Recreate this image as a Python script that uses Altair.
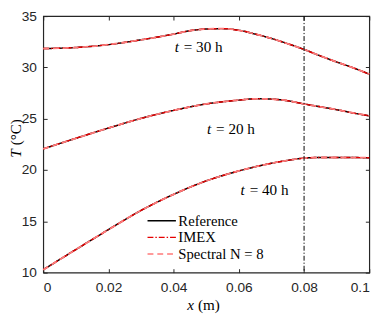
import altair as alt
import pandas as pd

# ---- data ----
series = ["Reference", "IMEX", "Spectral N = 8"]
series_colors = ["#000000", "#e60000", "#ff7a7a"]
series_dashes = [[1, 0], [6, 2, 1.5, 2], [6, 4]]
series_widths = [1.5, 1.5, 1.8]

x30 = [0, .01, .02, .03, .04, .045, .05, .055, .06, .065, .07, .075, .08, .085, .09, .095, .1]
T30 = [31.84, 31.94, 32.22, 32.69, 33.25, 33.58, 33.74, 33.78, 33.62, 33.25, 32.82, 32.31, 31.75, 31.12, 30.53, 29.97, 29.34]
x20 = [0, .01, .02, .03, .04, .05, .06, .065, .07, .075, .08, .085, .09, .095, .1]
T20 = [22.06, 23.09, 24.09, 25.03, 25.81, 26.44, 26.81, 26.94, 26.91, 26.75, 26.44, 26.16, 25.88, 25.56, 25.28]
x40 = [0, .01, .02, .03, .04, .05, .06, .07, .075, .08, .085, .09, .1]
T40 = [10.28, 12.25, 14.19, 16.06, 17.63, 18.94, 19.91, 20.66, 20.94, 21.16, 21.22, 21.22, 21.2]

ann_x = [0.0416, 0.0515, 0.0618]
ann_T = [32.0, 24.03, 18.03]
ann_rest = ["= 30 h", "= 20 h", "= 40 h"]

interface_x = [0.08]
x_ticks = [0, 0.02, 0.04, 0.06, 0.08, 0.1]
y_ticks = [10, 15, 20, 25, 30, 35]

# ---- tables ----
rows = []
for s in series:
    for tname, xs, ts in [("30", x30, T30), ("20", x20, T20), ("40", x40, T40)]:
        for xv, tv in zip(xs, ts):
            rows.append({"series": s, "time": tname, "x": xv, "T": tv})
df = pd.DataFrame(rows)
ann = pd.DataFrame({"x": ann_x, "T": ann_T, "rest": ann_rest})
vline = pd.DataFrame({"x": interface_x})

SERIF = "Liberation Serif"
SANS = "Liberation Sans"
AX = "#262626"
FS = 15.5

xscale = alt.Scale(domain=[0, 0.1], nice=False)
yscale = alt.Scale(domain=[10, 35], nice=False)

common_ax = dict(offset=-4, tickSize=4, domain=False, grid=False, title=None,
                 tickColor=AX, tickWidth=1, labelColor=AX, labelFont=SANS,
                 labelFontSize=14)

x_bottom = alt.Axis(orient="bottom", values=x_ticks, format=".2~f", labelPadding=8, **common_ax)
x_top = alt.Axis(orient="top", values=x_ticks, labels=False, **common_ax)
y_left = alt.Axis(orient="left", values=y_ticks, labelPadding=7, **common_ax)
y_right = alt.Axis(orient="right", values=y_ticks, labels=False, **common_ax)

legend = alt.Legend(title=None, orient="none", legendX=113, legendY=201,
                    symbolType="M-2,0H2", symbolSize=210, symbolStrokeWidth=1.5,
                    labelFont=SERIF, labelFontSize=15, labelColor="black",
                    labelOffset=9, rowPadding=1, padding=0)

color_enc = alt.Color("series:N", scale=alt.Scale(domain=series, range=series_colors), legend=legend)
dash_enc = alt.StrokeDash("series:N", scale=alt.Scale(domain=series, range=series_dashes), legend=legend)

layers = []
for i, (s, w) in enumerate(zip(series, series_widths)):
    layers.append(
        alt.Chart(df[df.series == s]).mark_line(strokeWidth=w, interpolate="monotone").encode(
            x=alt.X("x:Q", scale=xscale, axis=x_bottom if i == 0 else None),
            y=alt.Y("T:Q", scale=yscale, axis=y_left if i == 0 else None),
            color=color_enc,
            strokeDash=dash_enc,
            detail="time:N",
        )
    )

rule = alt.Chart(vline).mark_rule(color="black", strokeWidth=1, strokeDash=[5, 2, 1.2, 2]).encode(
    x=alt.X("x:Q", scale=xscale, axis=x_top)
)

ann_t = alt.Chart(ann).mark_text(text="t", font=SERIF, fontStyle="italic", fontSize=FS,
                                 align="right", baseline="middle", color="black").encode(
    x=alt.X("x:Q", scale=xscale, axis=None),
    y=alt.Y("T:Q", scale=yscale, axis=y_right),
)
ann_r = alt.Chart(ann).mark_text(font=SERIF, fontSize=FS, align="left", baseline="middle",
                                 color="black", dx=5).encode(
    x=alt.X("x:Q", scale=xscale, axis=None),
    y=alt.Y("T:Q", scale=yscale, axis=None),
    text="rest:N",
)

one = pd.DataFrame({"a": [0]})
ytitle_T = alt.Chart(one).mark_text(text="T", font=SERIF, fontStyle="italic", fontSize=FS,
                                    angle=270, align="right", baseline="middle", color="black").encode(
    x=alt.value(-28), y=alt.value(136))
ytitle_u = alt.Chart(one).mark_text(text="(\u00b0C)", font=SERIF, fontSize=FS,
                                    angle=270, align="left", baseline="middle", color="black").encode(
    x=alt.value(-28), y=alt.value(132))
xtitle_x = alt.Chart(one).mark_text(text="x", font=SERIF, fontStyle="italic", fontSize=FS,
                                    align="right", baseline="middle", color="black").encode(
    x=alt.value(154), y=alt.value(295))
xtitle_u = alt.Chart(one).mark_text(text="(m)", font=SERIF, fontSize=FS,
                                    align="left", baseline="middle", color="black").encode(
    x=alt.value(158), y=alt.value(295))

chart = alt.layer(*layers, rule, ann_t, ann_r, ytitle_T, ytitle_u, xtitle_x, xtitle_u).resolve_axis(
    x="independent", y="independent"
).properties(
    width=333, height=262,
    padding={"left": 36, "top": 5, "right": 13, "bottom": 40},
    autosize=alt.AutoSizeParams(type="none"),
    background="white",
).configure_view(stroke=AX, strokeWidth=1.2)

chart.save("out.html", embed_options={"renderer": "svg", "actions": False})
